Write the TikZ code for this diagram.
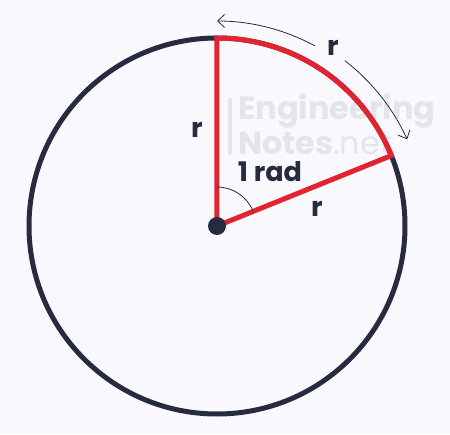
\documentclass[tikz,border=0pt]{standalone}
\usepackage{fontspec}
\setmainfont{Poppins}
\usetikzlibrary{arrows.meta}
\definecolor{navy}{HTML}{272B3F}
\definecolor{redc}{HTML}{E32430}
\definecolor{bgc}{HTML}{F9F9FD}
\definecolor{wm}{HTML}{E4E4EB}
\tikzset{
  lbl/.style={text=navy, font=\fontsize{27}{32}\selectfont\bfseries, inner sep=0pt},
  wmtext/.style={text=wm, font=\fontsize{32}{37}\selectfont\bfseries, inner sep=0pt, anchor=base west},
  redline/.style={draw=redc, line width=5pt},
  thin/.style={draw=navy, line width=0.8pt},
}
\begin{document}
\begin{tikzpicture}[x=1pt,y=1pt]
\fill[bgc] (-217,-208) rectangle (233,226);
\useasboundingbox (-217,-208) rectangle (233,226);
\coordinate (O) at (0,0);
% watermark
\node[wmtext] (wm1) at (21,106) {Engineering};
\node[wmtext] (wm2) at (21,71) {Notes\textmd{.net}};
\fill[wm] (11,71) rectangle (15,128);
% circle
\draw[navy, line width=5pt] (O) circle[radius=188];
\coordinate (T) at (90:188);
\coordinate (P) at (22:188);
% sector
\draw[redline, line join=miter] (T) -- (O) -- (P) arc[start angle=22, end angle=90, radius=188] -- cycle;
% angle arc
\draw[thin] (90:39) arc[start angle=90, end angle=22, radius=39];
% centre dot
\fill[navy] (O) circle[radius=9];
% arc-length arrow
\draw[thin, {Straight Barb[length=7pt,width=13pt]}-] (90:205) arc[start angle=90, end angle=61.5, radius=205];
\draw[thin, -{Straight Barb[length=7pt,width=13pt]}] (52.3:209) arc[start angle=52.3, end angle=24.5, radius=209];
% labels
\node[lbl] (rtop) at (116,178) {r};
\node[lbl] (rleft) at (-20,96) {r};
\node[lbl] (rad) at (53,54) {1 rad};
\node[lbl] (rlow) at (100,17) {r};
\end{tikzpicture}
\end{document}
